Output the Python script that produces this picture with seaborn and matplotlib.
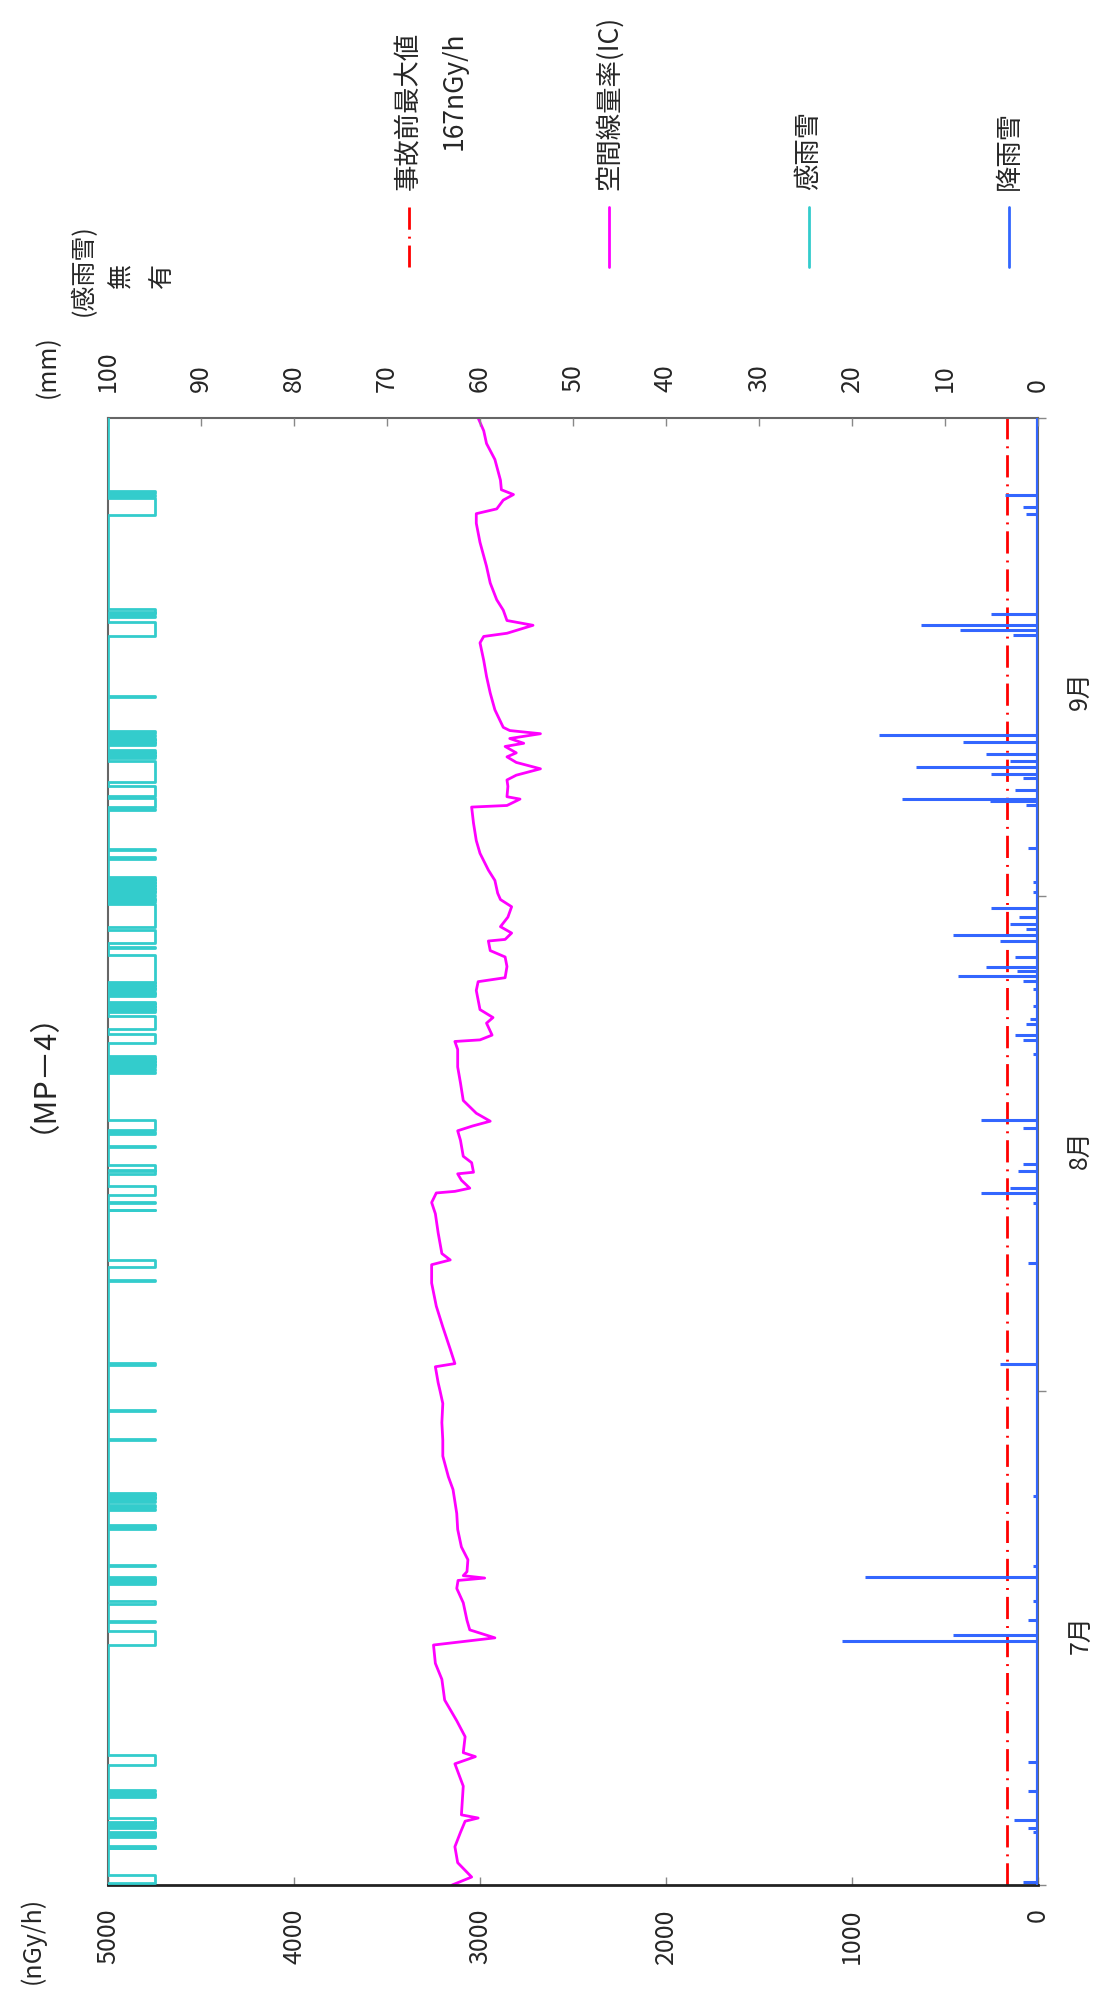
import numpy as np
import pandas as pd
import matplotlib
matplotlib.use('Agg')
import matplotlib.pyplot as plt
from matplotlib.lines import Line2D
import seaborn as sns

# time axis: days counted from 1 Jul 0:00 (92 = 1 Oct 0:00)
month_edges = [0, 31, 62, 92]
month_pos = [16.3, 46.7, 75.5]
month_labels = ['7月', '8月', '9月']

dose_ticks = [0, 1000, 2000, 3000, 4000, 5000]
rain_ticks = [0, 10, 20, 30, 40, 50, 60, 70, 80, 90, 100]
pre_accident_max = 167  # nGy/h

# air dose rate (IC), nGy/h
dose_day = [0.0, 0.5, 1.4, 2.4, 3.3, 4.0, 4.2, 4.4, 5.3, 6.2, 7.6, 8.05, 8.3, 9.3, 10.3,
            11.6, 12.9, 13.9, 15.05, 15.5, 16.0, 16.6, 17.7, 18.6, 19.1, 19.25, 19.4,
            19.65, 20.4, 21.2, 22.3, 23.3, 24.8, 25.6, 26.9, 27.9, 29.0, 30.2, 31.0,
            31.5, 32.5, 32.7, 33.6, 35.0, 36.3, 37.75, 38.9, 39.2, 39.6, 40.9, 42.1,
            42.8, 43.4, 43.5, 43.7, 44.2, 44.6, 44.7, 45.3, 45.7, 46.7, 47.3, 47.6,
            47.9, 48.4, 49.2, 50.3, 51.3, 52.4, 52.9, 53.0, 53.3, 54.05, 54.4, 54.9,
            55.5, 56.1, 56.65, 56.9, 57.6, 58.2, 58.6, 59.2, 59.3, 59.7, 60.1, 60.7,
            61.35, 61.8, 62.2, 63.0, 63.65, 64.7, 65.5, 66.6, 67.6, 67.7, 68.1, 68.25,
            68.9, 69.3, 69.6, 70.0, 70.4, 70.75, 71.0, 71.4, 71.6, 71.9, 72.2, 72.4,
            72.6, 73.7, 74.75, 75.8, 76.8, 77.9, 78.3, 78.5, 79.0, 79.3, 79.95, 80.6,
            81.65, 82.7, 84.2, 85.4, 86.0, 86.3, 86.85, 87.2, 87.5, 88.1, 89.4, 90.4,
            91.2, 92.0]
dose_val = [3150, 3045, 3120, 3135, 3105, 3080, 3010, 3100, 3095, 3090, 3135, 3025, 3090, 3080, 3125,
            3190, 3205, 3240, 3250, 2920, 3055, 3070, 3090, 3125, 3118, 2975, 3090,
            3070, 3065, 3100, 3120, 3125, 3145, 3170, 3200, 3200, 3205, 3200, 3215,
            3225, 3240, 3135, 3160, 3200, 3235, 3260, 3260, 3160, 3205, 3225, 3240,
            3260, 3235, 3135, 3055, 3100, 3120, 3035, 3045, 3090, 3105, 3120, 3040,
            2945, 3020, 3090, 3105, 3120, 3120, 3135, 3000, 2935, 2965, 2930, 3000,
            3010, 3020, 3010, 2865, 2855, 2865, 2945, 2955, 2865, 2830, 2890, 2850,
            2830, 2890, 2905, 2920, 2955, 3000, 3020, 3035, 3045, 2855, 2785, 2855,
            2850, 2855, 2805, 2675, 2805, 2855, 2805, 2865, 2765, 2840, 2675, 2840,
            2875, 2920, 2945, 2965, 2980, 3000, 2980, 2855, 2715, 2855, 2875, 2910,
            2945, 2965, 3000, 3020, 3020, 2910, 2875, 2820, 2885, 2890, 2920, 2965,
            2980, 3010]

# precipitation (rain / snow), mm
rain_day = [0.2, 3.3, 3.6, 4.1, 5.9, 7.7, 15.3, 15.66, 16.6, 17.8, 19.3, 20.0, 24.4,
            32.7, 39.0, 42.8, 43.4, 43.7, 44.8, 45.2, 47.5, 48.0, 52.1, 53.0, 53.3,
            54.0, 54.3, 55.1, 56.2, 56.7, 57.0, 57.3, 57.6, 58.2, 59.2, 59.6, 59.95,
            60.25, 60.7, 61.3, 62.3, 62.9, 65.05, 67.7, 67.95, 68.1, 68.7, 69.4, 69.7,
            70.1, 70.5, 70.95, 71.65, 72.15, 78.4, 78.7, 79.0, 79.7, 86.0, 86.4, 87.2]
rain_mm = [1.6, 0.5, 1.1, 2.6, 1.1, 1.1, 21.1, 9.1, 1.1, 0.5, 18.6, 0.5, 0.5,
           4.1, 1.1, 0.5, 6.1, 3.0, 2.2, 1.6, 1.6, 6.1, 0.5, 1.6, 2.5,
           1.3, 0.9, 0.5, 0.5, 1.6, 8.6, 2.3, 5.6, 2.5, 4.1, 9.1, 1.3,
           3.0, 2.0, 5.1, 0.5, 0.5, 1.1, 1.3, 5.2, 14.6, 2.5, 1.6, 5.0,
           13.1, 3.0, 5.6, 8.1, 17.1, 2.7, 8.4, 12.6, 5.1, 1.3, 1.6, 3.6]

# rain sensor ON periods (days)
sense_on = [0.1, 2.3, 2.38, 3.0, 3.13, 3.24, 3.6, 3.78, 3.95, 5.55, 5.72, 5.88, 7.5,
            15.05, 16.5, 17.6, 18.9, 19.08, 19.22, 20.0, 22.3, 22.48, 23.5, 23.68,
            24.0, 24.18, 24.36, 24.52, 27.9, 29.7, 32.6, 37.9, 38.75, 42.3, 42.8,
            43.3, 44.6, 44.85, 46.3, 47.1, 47.35, 50.9, 51.08, 51.28, 51.48, 51.68,
            51.88, 52.8, 53.7, 54.75, 54.95, 55.15, 55.32, 55.75, 55.92, 56.1, 56.28,
            56.46, 56.65, 58.78, 59.1, 60.1, 61.65, 61.82, 62.0, 62.18, 62.36, 62.54,
            62.72, 62.9, 63.08, 64.35, 64.9, 67.4, 67.6, 68.3, 69.2, 70.7, 70.88,
            71.06, 71.5, 71.68, 71.86, 72.04, 72.22, 74.5, 78.3, 79.5, 79.68, 79.86,
            85.9, 87.1, 87.28]
sense_off = [0.6, 2.34, 2.45, 3.08, 3.2, 3.3, 3.7, 3.86, 4.2, 5.65, 5.8, 5.95, 8.15,
             15.9, 16.56, 17.8, 19.0, 19.15, 19.3, 20.06, 22.4, 22.6, 23.6, 23.8,
             24.1, 24.28, 24.46, 24.6, 27.96, 29.76, 32.75, 37.96, 39.2, 42.36, 42.86,
             43.85, 44.75, 45.15, 46.36, 47.2, 47.95, 51.0, 51.2, 51.4, 51.6, 51.8,
             52.0, 53.4, 54.5, 54.85, 55.05, 55.25, 55.4, 55.85, 56.0, 56.2, 56.38,
             56.56, 58.3, 58.85, 59.9, 61.55, 61.75, 61.92, 62.1, 62.28, 62.46, 62.64,
             62.82, 63.0, 63.2, 64.45, 64.97, 67.47, 68.2, 68.95, 70.5, 70.8, 70.98,
             71.2, 71.6, 71.78, 71.96, 72.14, 72.4, 74.58, 79.2, 79.6, 79.78, 80.0,
             87.0, 87.2, 87.4]

legend_labels = ['事故前最大値', '空間線量率(IC)', '感雨雪', '降雨雪']
c_pre = '#FF0000'
c_dose = '#FF00FF'
c_sense = '#33CCCC'
c_rain = '#3366FF'
dashdot = (0, (8, 2.5, 0.7, 2.5))

sns.set_style('ticks')
plt.rcParams['font.family'] = ['Noto Sans CJK JP', 'DejaVu Sans']

W, H = 1096, 2000
fig = plt.figure(figsize=(W / 100, H / 100), dpi=100)


def fx(px):
    return px / W


def fy(py):
    return 1 - py / H


ax = fig.add_axes([fx(108), fy(1885), 930 / W, 1467 / H])
ax2 = ax.twiny()   # precipitation scale (mm) on top
ax3 = ax.twiny()   # rain sensor on/off

# dose rate
df_dose = pd.DataFrame({'dose': dose_val, 'day': dose_day})
sns.lineplot(data=df_dose, x='dose', y='day', ax=ax, color=c_dose, lw=2,
             sort=False, estimator=None, orient='y')
ax.axvline(pre_accident_max, color=c_pre, lw=2, linestyle=dashdot)

# precipitation
ax2.hlines(rain_day, 0, rain_mm, color=c_rain, lw=2.2)
ax2.axvline(0, color=c_rain, lw=3)

# rain sensor as rectangular on/off trace
sx, sy = [0], [0]
for s, e in zip(sense_on, sense_off):
    sx += [0, 1, 1, 0]
    sy += [s, s, e, e]
sx.append(0)
sy.append(92)
df_sense = pd.DataFrame({'state': sx, 'day': sy})
sns.lineplot(data=df_sense, x='state', y='day', ax=ax3, color=c_sense, lw=2,
             sort=False, estimator=None, orient='y')

# scales
ax.set_xlim(5000, 0)
ax2.set_xlim(100, 0)
ax3.set_xlim(0, 19.8)
for a in (ax, ax2, ax3):
    a.set_ylim(0, 92)
    a.set_xlabel('')
    a.set_ylabel('')

ax.set_xticks(dose_ticks)
ax.set_xticklabels([str(v) for v in dose_ticks])
ax.tick_params(axis='x', direction='in', length=6, width=1, color='#888888',
               pad=17, labelsize=18, labelrotation=90)

ax2.set_xticks(rain_ticks)
ax2.set_xticklabels([str(v) for v in rain_ticks])
ax2.tick_params(axis='x', direction='in', length=6, width=1, color='#888888',
                pad=19, labelsize=18, labelrotation=90)
ax3.xaxis.set_visible(False)

ax.yaxis.tick_right()
ax.set_yticks(month_edges)
ax.set_yticklabels([])
ax.set_yticks(month_pos, minor=True)
ax.set_yticklabels(month_labels, minor=True)
ax.tick_params(axis='y', which='major', direction='out', length=6, width=1,
               color='#888888')
ax.tick_params(axis='y', which='minor', length=0, pad=21, labelsize=18,
               labelrotation=90)

for a in (ax2, ax3):
    for sp in a.spines.values():
        sp.set_visible(False)
for name, sp in ax.spines.items():
    sp.set_visible(True)
    sp.set_color('#666666')
    sp.set_linewidth(1.5)
ax.spines['bottom'].set_color('#222222')
ax.spines['bottom'].set_linewidth(2)

# title and axis captions
fig.text(fx(27), fy(1057), '（MP－4）', rotation=90, ha='center', va='center', fontsize=22)
fig.text(fx(32), fy(1940), '(nGy/h)', rotation=90, ha='center', va='center', fontsize=18)
fig.text(fx(48), fy(367), '(mm)', rotation=90, ha='center', va='center', fontsize=18)
fig.text(fx(84), fy(270), '(感雨雪)', rotation=90, ha='center', va='center', fontsize=18)
fig.text(fx(122), fy(275), '無', rotation=90, ha='center', va='center', fontsize=18)
fig.text(fx(162), fy(275), '有', rotation=90, ha='center', va='center', fontsize=18)

# legend (rotated, drawn by hand)
leg_x = [409, 609, 809, 1009]
leg_colors = [c_pre, c_dose, c_sense, c_rain]
leg_styles = [dashdot, '-', '-', '-']
for px, lab, col, ls in zip(leg_x, legend_labels, leg_colors, leg_styles):
    fig.add_artist(Line2D([fx(px), fx(px)], [fy(207), fy(267)], transform=fig.transFigure,
                          color=col, lw=2, linestyle=ls))
    fig.text(fx(px), fy(190), lab, rotation=90, ha='center', va='bottom', fontsize=19)
fig.text(fx(454), fy(150), f'{pre_accident_max}nGy/h', rotation=90, ha='center',
         va='bottom', fontsize=19)

fig.savefig('out.png', dpi=100)
